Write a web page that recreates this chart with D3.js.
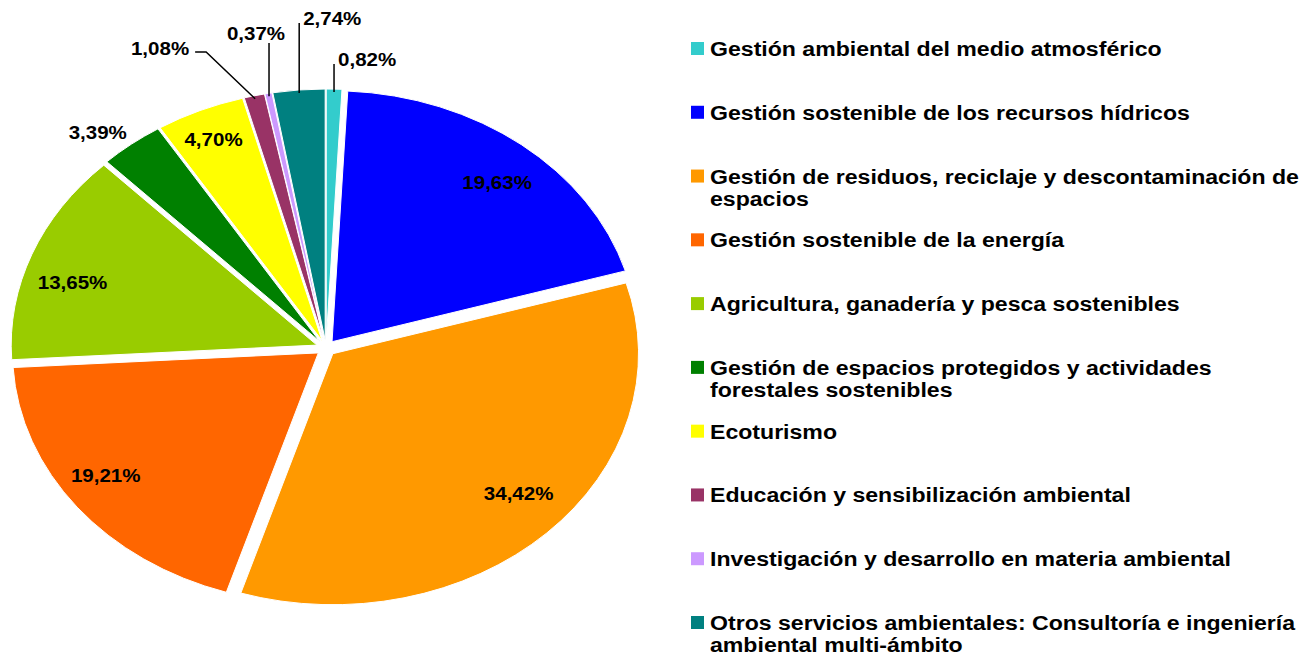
<!DOCTYPE html>
<html>
<head>
<meta charset="utf-8">
<title>Distribución por actividad</title>
<script src="https://cdn.jsdelivr.net/npm/d3@7"></script>
<style>
    body { margin: 0; background: #fff; }
    text { font-family: "Liberation Sans", Arial, sans-serif; font-weight: bold; fill: #000; }
</style>
</head>
<body>
<div class="viz-container"></div>
<script>

// categories, in the order the slices run clockwise from 12 o'clock
var categories = [
    "Gestión ambiental del medio atmosférico",
    "Gestión sostenible de los recursos hídricos",
    "Gestión de residuos, reciclaje y descontaminación de\nespacios",
    "Gestión sostenible de la energía",
    "Agricultura, ganadería y pesca sostenibles",
    "Gestión de espacios protegidos y actividades\nforestales sostenibles",
    "Ecoturismo",
    "Educación y sensibilización ambiental",
    "Investigación y desarrollo en materia ambiental",
    "Otros servicios ambientales: Consultoría e ingeniería\nambiental multi-ámbito"
];
var values = [0.82, 19.63, 34.42, 19.21, 13.65, 3.39, 4.70, 1.08, 0.37, 2.74];
var colors = ["#33CCCC", "#0000FF", "#FF9900", "#FF6600", "#99CC00",
              "#008000", "#FFFF00", "#993366", "#CC99FF", "#008080"];

//Basic sizing
var width = 1308;
var height = 657;
var cx = 326, cy = 348;
var R = 251;            // vertical radius
var sx = 1.218;         // horizontal stretch of the pie
var explode = 8;

// how each value label is placed
// inside: radial at 0.84R plus a nudge; outside: just past the rim; leader: line + text
var labelMode = ["leaderUp", "inside", "inside", "inside", "inside",
                 "outside", "inside", "leaderElbow", "leaderUpLeft", "leaderUp"];
var insideNudge = {1: [6, 6], 2: [6, -11], 3: [-10, -7], 4: [-5, 14], 6: [-6, -8]};
var leaderTop = {0: 64, 7: 52, 8: 43, 9: 23};

var fmt = function(v) { return d3.format(".2f")(v).replace(".", ",") + "%"; };

var svg = d3.select(".viz-container")
            .append("svg")
            .attr("width", width)
            .attr("height", height);

var pie = d3.pie().sort(null).value(function(d) { return d; });
var arcs = pie(values);
var arc = d3.arc().innerRadius(0).outerRadius(R);

function unit(d) {
    var a = (d.startAngle + d.endAngle) / 2;
    return [Math.sin(a), -Math.cos(a)];
}
// point at radius r (circle units) along the slice bisector, after explode and stretch
function pt(d, r) {
    var u = unit(d);
    return [cx + sx * (r + explode) * u[0], cy + (r + explode) * u[1]];
}

var g = svg.append("g")
    .attr("transform", "translate(" + cx + "," + cy + ") scale(" + sx + ",1)");

g.selectAll(".slice")
    .data(arcs)
    .enter()
    .append("path")
    .attr("class", "slice")
    .attr("d", arc)
    .attr("fill", function(d, i) { return colors[i]; })
    .attr("stroke", "#fff")
    .attr("stroke-width", 1)
    .attr("vector-effect", "non-scaling-stroke")
    .attr("transform", function(d) {
        var u = unit(d);
        return "translate(" + (explode * u[0]) + "," + (explode * u[1]) + ")";
    });

//Value labels
var labels = svg.append("g");
arcs.forEach(function(d, i) {
    var mode = labelMode[i];
    var txt = fmt(values[i]);
    if (mode === "inside") {
        var p = pt(d, 0.84 * R);
        var n = insideNudge[i] || [0, 0];
        labels.append("text")
            .attr("transform", "translate(" + (p[0] + n[0]) + "," + (p[1] + n[1]) + ") scale(1.08,1)")
            .attr("text-anchor", "middle")
            .attr("dy", "0.35em")
            .style("font-size", "19px")
            .text(txt);
    } else if (mode === "outside") {
        var p = pt(d, R + 6);
        labels.append("text")
            .attr("transform", "translate(" + p[0] + "," + p[1] + ") scale(1.08,1)")
            .attr("text-anchor", "end")
            .style("font-size", "19px")
            .text(txt);
    } else {
        var p = pt(d, R - 3);
        var top = leaderTop[i];
        var pts, tx, ty, anchor;
        if (mode === "leaderElbow") {
            pts = [p, [p[0] - 49, top], [p[0] - 60, top]];
            tx = p[0] - 66; ty = top + 3; anchor = "end";
        } else if (mode === "leaderUpLeft") {
            pts = [p, [p[0], top]];
            tx = p[0] - 13; ty = top - 3; anchor = "middle";
        } else {
            pts = [p, [p[0], top]];
            tx = p[0] + 4; ty = top + 2; anchor = "start";
        }
        labels.append("path")
            .attr("d", d3.line()(pts))
            .attr("fill", "none")
            .attr("stroke", "#000")
            .attr("stroke-width", 1.5);
        labels.append("text")
            .attr("transform", "translate(" + tx + "," + ty + ") scale(1.08,1)")
            .attr("text-anchor", anchor)
            .style("font-size", "19px")
            .text(txt);
    }
});

//Legend
var legendY = d3.scalePoint()
    .domain(d3.range(categories.length))
    .range([56, 630]);

var legend = svg.append("g")
    .selectAll(".legend-item")
    .data(categories)
    .enter()
    .append("g")
    .attr("class", "legend-item")
    .attr("transform", function(d, i) { return "translate(0," + legendY(i) + ")"; });

legend.append("rect")
    .attr("x", 691)
    .attr("y", -14)
    .attr("width", 13)
    .attr("height", 13)
    .attr("fill", function(d, i) { return colors[i]; });

legend.each(function(d) {
    var t = d3.select(this).append("text")
        .attr("transform", "translate(710,0) scale(1.1,1)")
        .style("font-size", "21px");
    d.split("\n").forEach(function(line, j) {
        t.append("tspan")
            .attr("x", 0)
            .attr("y", j * 22.5)
            .text(line);
    });
});

</script>
</body>
</html>
